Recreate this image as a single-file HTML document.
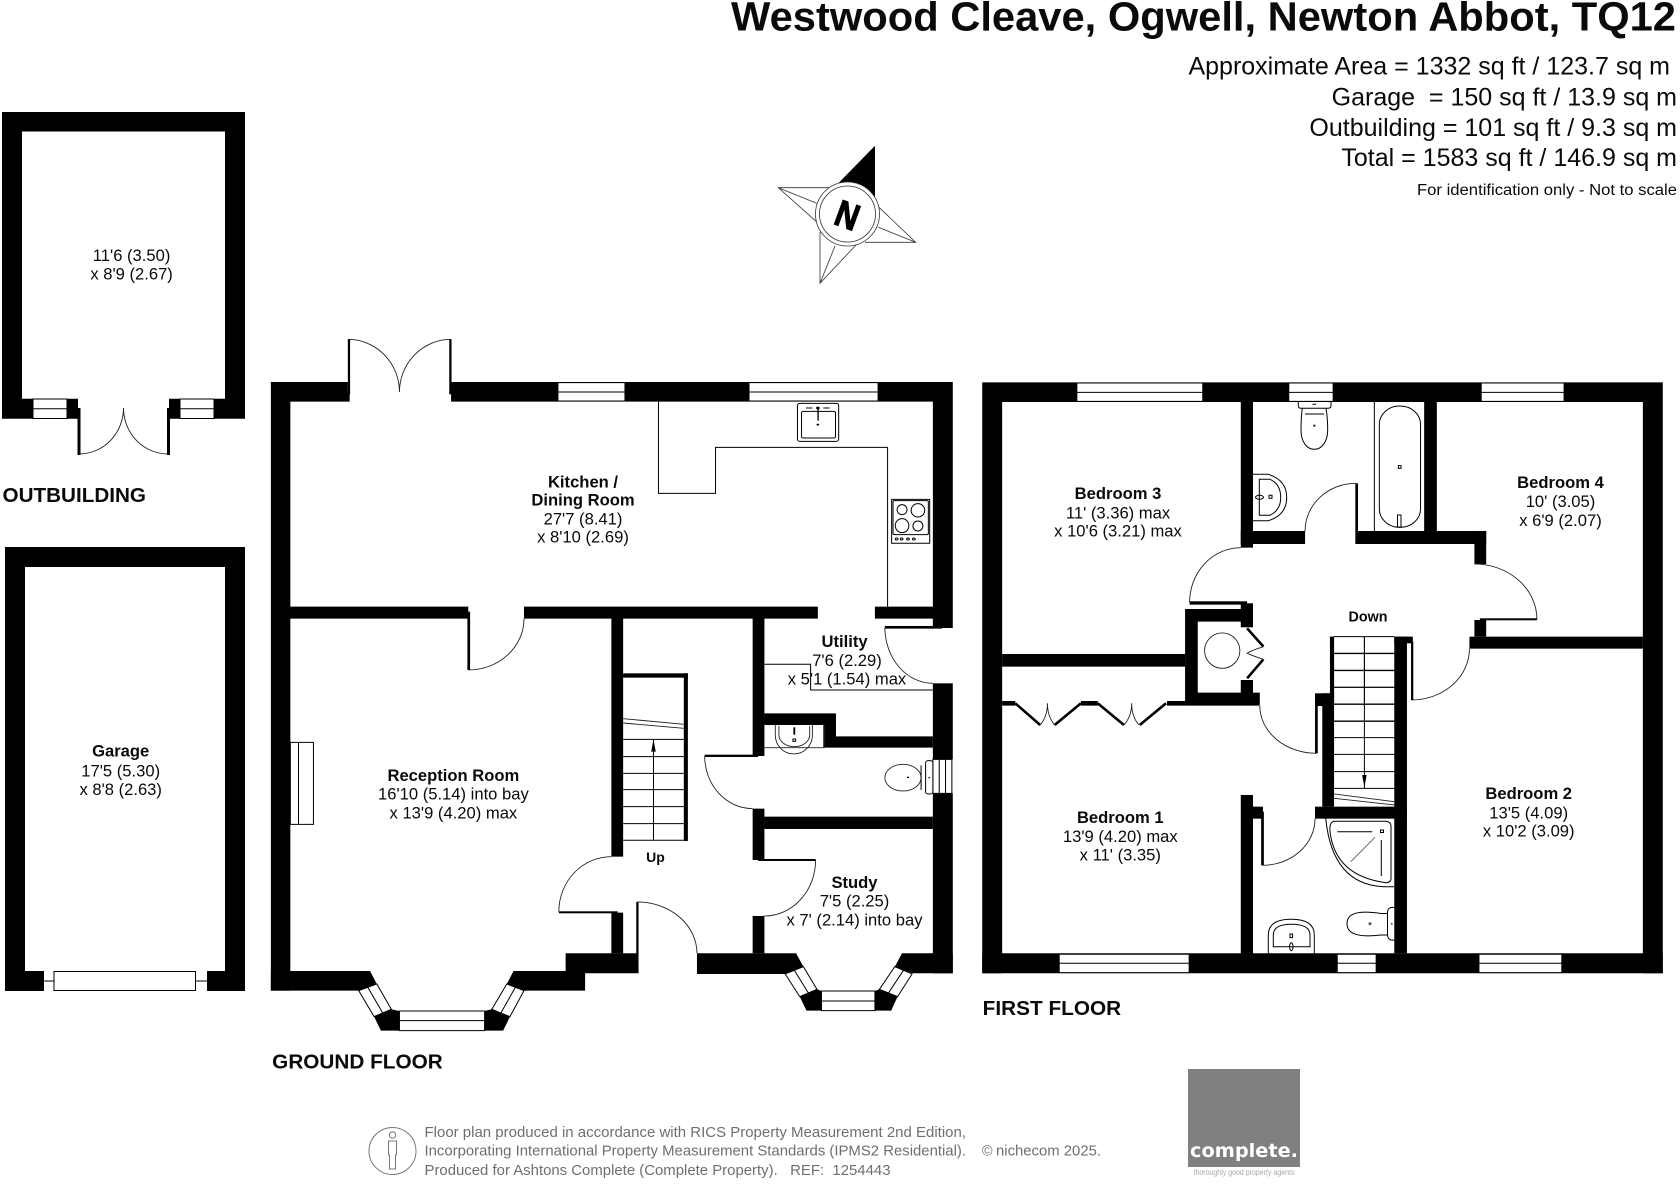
<!DOCTYPE html>
<html lang="en"><head><meta charset="utf-8"><title>Westwood Cleave floor plan</title>
<style>
html,body{margin:0;padding:0;background:#fff}
svg{display:block}
svg *{vector-effect:non-scaling-stroke}
text{font-family:"Liberation Sans",sans-serif;fill:#0a0a0a;vector-effect:none}
.r{font-size:16.6px;text-anchor:middle}
.b{font-size:16.6px;font-weight:bold;text-anchor:middle}
.h{font-size:25px;text-anchor:end}
.f{font-size:20.6px;font-weight:bold}
.g{font-size:14.3px;fill:#6f6f6f}
.k{fill:#000;stroke:none}
.l{fill:none;stroke:#000;stroke-width:1}
.t{fill:none;stroke:#222;stroke-width:.9}
.w{fill:#fff;stroke:#000;stroke-width:1}
.d{fill:none;stroke:#000;stroke-width:2.6}
</style></head><body>
<svg xmlns="http://www.w3.org/2000/svg" width="1680" height="1184" viewBox="0 0 1680 1184">
<rect width="1680" height="1184" fill="#fff"/>

<!-- Outbuilding -->
<path class="k" d="M2 112H245V418.7H180V398.7H225V131.5H22V398.7H78V418.7H2Z"/>
<path class="k" d="M169 398.7H182V418.7H169Z"/>
<rect class="w" x="33" y="399" width="34" height="19.5"/><line class="l" x1="33" y1="408.7" x2="67" y2="408.7"/>
<rect class="w" x="180" y="399" width="34" height="19.5"/><line class="l" x1="180" y1="408.7" x2="214" y2="408.7"/>
<rect class="k" x="77.5" y="408" width="3" height="47"/><rect class="k" x="167" y="408" width="3" height="47"/>
<path class="t" d="M79 454A44.500 46 0 0 0 123.500 408M168 454A44.500 46 0 0 1 123.500 408"/>

<!-- Garage -->
<path class="k" d="M5 547H245V991H207V971H225V567H25V971H44V991H5Z"/>
<rect class="w" x="54" y="971.500" width="141.500" height="19"/>
<path class="l" d="M44 981H54M196 981H207"/>

<!-- Ground floor, upper part -->
<g transform="translate(260,330) scale(.4528,.3333)">
<path class="k" d="M24 156H194V188H198V215H67V830H460V866H24ZM422 156H1530V894H1486V830H1358V866H1486V215H422Z"/>
<path class="k" d="M583 830H1232V866H583Z"/>
<rect class="k" x="194" y="28" width="5" height="165"/><rect class="k" x="418" y="28" width="5" height="165"/>
<path class="t" d="M194 28A114 158 0 0 1 308 186M422 28A114 158 0 0 0 308 186"/>
<rect class="w" x="658" y="158" width="148" height="55"/><line class="l" x1="658" y1="186" x2="806" y2="186"/>
<rect class="w" x="1080" y="158" width="285" height="55"/><line class="l" x1="1080" y1="186" x2="1365" y2="186"/>
<path class="l" d="M880 215V490H1006V352H1386V830"/>
<rect class="l" x="1187" y="220" width="91" height="114" rx="6" ry="6"/><rect class="l" x="1196" y="244" width="75" height="80" rx="4" ry="4"/>
<path class="k" d="M1231 236h3v36h-3z"/><circle class="k" cx="1232" cy="234" r="4"/><circle class="k" cx="1232" cy="284" r="3"/>
<path class="l" d="M1206 234h14M1244 234h14"/>
<rect class="l" x="1395" y="508" width="84" height="132"/><rect class="l" x="1398" y="512" width="78" height="102" rx="3"/>
<ellipse class="l" cx="1418" cy="539" rx="11" ry="15"/><ellipse class="l" cx="1453" cy="541" rx="15" ry="20"/>
<ellipse class="l" cx="1418" cy="587" rx="15" ry="21"/><ellipse class="l" cx="1453" cy="588" rx="11" ry="15"/>
<g class="l"><circle cx="1406" cy="627" r="3"/><circle cx="1417" cy="627" r="3"/><circle cx="1431" cy="627" r="3"/><circle cx="1444" cy="627" r="3"/></g>
<rect class="k" x="458" y="845" width="6" height="175"/>
<path class="t" d="M460 1020A123 154 0 0 0 583 866"/>
<rect class="k" x="1380" y="888" width="126" height="8"/>
<path class="t" d="M1380 893A106 168 0 0 0 1486 1060"/>
<path class="l" d="M1114 1003H1216V1080H1486"/>
</g>

<!-- Ground floor, lower part -->
<g transform="translate(260,620) scale(.4528,.3333)">
<rect class="k" x="24" y="-8" width="43" height="1120"/>
<rect class="k" x="776" y="-8" width="26" height="718"/><rect class="k" x="776" y="878" width="26" height="122"/>
<rect class="k" x="660" y="874" width="130" height="6"/>
<path class="t" d="M776 710A116 165 0 0 0 660 875"/>
<rect class="k" x="802" y="160" width="143" height="13"/><rect class="k" x="936" y="160" width="9" height="503"/>
<path class="l" d="M802 358H936M802 410H936M802 460H936M802 509H936M802 560H936M802 611H936M802 661H936M869 358V661"/>
<path class="k" d="M869 358L864 395H874Z"/>
<path class="t" d="M802 296L936 313M802 309L936 325"/>
<rect class="k" x="1088" y="-8" width="26" height="416"/><rect class="k" x="982" y="404" width="118" height="7"/>
<path class="t" d="M982 408A106 158 0 0 0 1088 566"/>
<rect class="k" x="1088" y="566" width="26" height="154"/><rect class="k" x="1100" y="717" width="127" height="6"/>
<path class="t" d="M1227 720A113 168 0 0 1 1114 888"/>
<rect class="k" x="1088" y="888" width="26" height="112"/>
<path class="k" d="M1114 280H1272V349H1486V383H1244V315H1114Z"/>
<rect class="k" x="1114" y="590" width="372" height="37"/>
<rect class="k" x="1486" y="190" width="44" height="228"/><rect class="k" x="1486" y="520" width="44" height="540"/>
<rect class="w" x="1486" y="418" width="42" height="102"/><path class="l" d="M1500 418V520M1514 418V520"/>
<path class="t" d="M1114 383H1246V315"/>
<path class="t" d="M1138 315V345A41 57 0 0 0 1220 345V315"/>
<path class="t" d="M1146 318V345A34 35 0 0 0 1214 345V318"/>
<rect class="k" x="1178" y="322" width="4" height="22"/><rect class="l" x="1177" y="357" width="6" height="7"/>
<ellipse class="t" cx="1420" cy="473" rx="40" ry="40"/>
<rect class="w" x="1470" y="422" width="16" height="100" rx="6"/>
<path class="l" d="M1460 436V510"/>
<circle class="k" cx="1431" cy="472" r="2.500"/><circle class="k" cx="1478" cy="473" r="2"/>
<rect class="w" x="67" y="367" width="51" height="246"/><line class="l" x1="85" y1="367" x2="85" y2="613"/>
<path class="k" d="M24 1053H243L258 1092L218 1112H24Z"/>
<path class="k" d="M560 1053H675V1000H836V1060H718V1112H583L545 1092Z"/>
<rect class="k" x="831" y="846" width="5" height="160"/>
<path class="t" d="M833 846A132 154 0 0 1 965 1000"/>
<path class="k" d="M965 1000H1184L1200 1040L1160 1062H965Z"/>
<path class="k" d="M1418 1000H1530V1060H1440L1402 1040Z"/>
<path class="w" d="M218 1112L258 1092L290 1168L252 1190Z"/><path class="l" d="M238 1102L271 1179"/>
<path class="k" d="M252 1190L290 1168L308 1173V1232H267Z"/>
<rect class="w" x="308" y="1173" width="188" height="59"/><line class="l" x1="308" y1="1202" x2="496" y2="1202"/>
<path class="k" d="M496 1173L512 1168L552 1190L537 1232H496Z"/>
<path class="w" d="M512 1168L552 1190L583 1112L545 1092Z"/><path class="l" d="M532 1179L564 1102"/>
<path class="w" d="M1160 1062L1200 1040L1230 1108L1192 1130Z"/><path class="l" d="M1180 1051L1211 1119"/>
<path class="k" d="M1192 1130L1230 1108L1240 1113V1172H1207Z"/>
<rect class="w" x="1240" y="1113" width="118" height="59"/><line class="l" x1="1240" y1="1143" x2="1358" y2="1143"/>
<path class="k" d="M1358 1113L1368 1108L1408 1130L1394 1172H1358Z"/>
<path class="w" d="M1368 1108L1408 1130L1440 1062L1402 1040Z"/><path class="l" d="M1388 1119L1421 1051"/>
</g>

<!-- First floor, upper part -->
<g transform="translate(970,370) scale(.4528,.3333)">
<path class="k" d="M27 37H1530V1810H1486V96H71V1810H27Z"/>
<rect class="w" x="236" y="39" width="278" height="55"/><line class="l" x1="236" y1="67" x2="514" y2="67"/>
<rect class="w" x="704" y="39" width="98" height="55"/><line class="l" x1="704" y1="67" x2="802" y2="67"/>
<rect class="w" x="1129" y="39" width="183" height="55"/><line class="l" x1="1129" y1="67" x2="1312" y2="67"/>
<rect class="k" x="598" y="96" width="27" height="437"/>
<rect class="k" x="598" y="483" width="142" height="39"/>
<rect class="k" x="855" y="483" width="285" height="39"/>
<rect class="k" x="851" y="340" width="6" height="182"/>
<path class="t" d="M852 340A112 143 0 0 0 740 483"/>
<rect class="k" x="1003" y="96" width="28" height="387"/>
<line class="l" x1="893" y1="96" x2="893" y2="483"/>
<rect class="l" x="904" y="108" width="91" height="364" rx="45" ry="55"/>
<rect class="l" x="946" y="287" width="6" height="8"/>
<rect class="k" x="598" y="700" width="27" height="72"/>
<path class="t" d="M598 533A113 164 0 0 0 485 697"/>
<rect class="k" x="485" y="694" width="127" height="10"/>
<path class="k" d="M475 717H625V755H503V968H598V930H625V968H640V1007H475Z"/>
<rect class="k" x="71" y="852" width="404" height="38"/>
<rect class="k" x="1114" y="483" width="26" height="99"/>
<path class="t" d="M1114 582A138 166 0 0 1 1252 748"/>
<rect class="k" x="1126" y="745" width="126" height="6"/>
<rect class="k" x="1114" y="750" width="26" height="50"/>
<rect class="k" x="1103" y="800" width="383" height="36"/>
<path class="t" d="M1103 836A128 154 0 0 1 975 990"/>
<rect class="k" x="974" y="815" width="5" height="175"/>
<rect class="k" x="937" y="800" width="41" height="20"/>
<rect class="k" x="937" y="800" width="28" height="950"/>
<path class="d" d="M612 775L648 830M648 868L612 925"/>
<path class="t" d="M648 830Q620 842 612 850Q625 858 648 868"/>
<ellipse class="t" cx="557" cy="842" rx="39" ry="53"/>
<path class="k" d="M71 993H100V1007H71ZM245 993H282V1007H245ZM435 993H475V1007H435Z"/>
<path class="d" d="M100 1000L155 1065M245 1000L187 1065M282 1000L340 1065M433 1000L375 1065"/>
<path class="t" d="M155 1065Q171 1040 171 1000Q171 1040 187 1065M340 1065Q357 1040 357 1000Q357 1040 373 1065"/>
<path class="k" d="M795 800H804V975H795Z"/>
<path class="l" d="M804 800H937M804 850H937M804 901H937M804 952H937M804 1002H937M804 1053H937"/>
<line class="l" x1="871" y1="800" x2="871" y2="1000"/>
</g>

<!-- First floor, lower part -->
<g transform="translate(970,630) scale(.4528,.3333)">
<path class="k" d="M27 970H1530V1030H27Z"/>
<rect class="w" x="197" y="973" width="287" height="55"/><line class="l" x1="197" y1="1000" x2="484" y2="1000"/>
<rect class="w" x="811" y="973" width="86" height="55"/><line class="l" x1="811" y1="1000" x2="897" y2="1000"/>
<rect class="w" x="1124" y="973" width="183" height="55"/><line class="l" x1="1124" y1="1000" x2="1307" y2="1000"/>
<path class="t" d="M640 227A125 143 0 0 0 765 370"/>
<rect class="k" x="762" y="195" width="6" height="175"/>
<rect class="k" x="762" y="190" width="42" height="38"/>
<rect class="k" x="778" y="190" width="26" height="340"/>
<rect class="k" x="795" y="20" width="9" height="200"/>
<path class="l" d="M804 71H937M804 122H937M804 172H937M804 223H937M804 274H937M804 323H937M804 373H937M804 425H937M804 475H937"/>
<line class="l" x1="871" y1="20" x2="871" y2="475"/>
<path class="k" d="M871 472L866 435H876Z"/>
<path class="t" d="M804 492L937 515M804 505L937 525"/>
<rect class="k" x="762" y="530" width="203" height="36"/>
<rect class="k" x="598" y="495" width="27" height="480"/>
<rect class="k" x="625" y="530" width="22" height="36"/>
<rect class="k" x="643" y="545" width="6" height="161"/>
<path class="t" d="M646 706A116 140 0 0 0 762 566"/>
</g>

<!-- First-floor bathroom fixtures (page coordinates) -->
<g class="l">
<path d="M1298.300 402V405.500Q1298.300 408.300 1301 408.300H1328Q1331 408.300 1331 405.500V402"/>
<path d="M1302.300 408.300Q1301 418 1301 430C1301 442 1307 449.300 1314.300 449.300C1321.500 449.300 1327.700 442 1327.700 430Q1327.700 418 1326 408.300"/>
<path d="M1305 414H1324"/>
<path d="M1252.700 474.300H1268.300Q1286.700 480 1286.700 497.500Q1286.700 515 1268.300 520.700H1252.700"/>
<path d="M1259.300 479.300H1270Q1280.700 484 1280.700 497.500Q1280.700 510 1270 515.300H1259.300Z"/>
<ellipse cx="1259.500" cy="497.300" rx="4" ry="2"/>
<rect x="1269" y="495.300" width="3" height="3"/>
<path d="M1397.500 515H1401V527H1397.500ZM1396 527H1402.500"/>
<path d="M1325.700 818.300Q1332.200 884.200 1383.300 886.700H1394"/>
<path d="M1335 821.300H1385Q1391 821.300 1391 826.700V878.300Q1391 882.700 1386 882.700Q1335.300 876 1330 831.700Q1329 821.300 1335 821.300Z"/>
<path d="M1337.300 831.700H1372.300M1381.300 840V876"/>
<rect x="1380.500" y="830" width="3" height="2.500"/>
<path d="M1387.500 913.500H1381Q1347 908 1347 923.700Q1347 939 1381 935H1387.500"/>
<path d="M1394 907.500Q1387.500 906.500 1387.500 913V934Q1387.500 941 1394 940"/>
<path d="M1268.300 953.300V935Q1268.300 919.300 1291.300 919.300Q1314.300 919.300 1314.300 935V953.300"/>
<path d="M1273.300 946.700V935Q1273.300 924.300 1291.300 924.300Q1310 924.300 1310 935V946.700Z"/>
<rect x="1290" y="934" width="2.600" height="3.600"/>
<ellipse cx="1291.300" cy="946.700" rx="1.700" ry="4"/>
</g>
<path d="M1375 837.300L1350.700 861.700" fill="none" stroke="#666" stroke-width="1"/>
<circle cx="1314.300" cy="425.700" r="1.200" fill="#333"/><path d="M1312.500 404.300h3.600" stroke="#000" stroke-width="1"/>
<circle cx="1370" cy="923.700" r="1.500" fill="#555"/><circle cx="1391.700" cy="923.700" r="1" fill="#555"/>

<!-- Compass -->
<path class="k" d="M875 145.700L838.300 183.300L875 199Z"/>
<g fill="none" stroke="#333" stroke-width=".8">
<path d="M833.300 187.700H778.300L818.300 223.300M778.300 187.700L816.700 203.300"/>
<path d="M878.300 206.700L915.700 242.300H865M915.700 242.300L878.300 227.300"/>
<path d="M820 231.700V283.300L856 245M820 283.300L835 246"/>
</g>
<circle cx="847.500" cy="214" r="32" fill="#fff" stroke="#333" stroke-width=".8"/>
<circle cx="847.500" cy="214" r="28" fill="#fff" stroke="#333" stroke-width=".8"/>
<text transform="translate(847.500,215) rotate(20) scale(.85,1)" x="0" y="13" font-size="37" font-weight="bold" text-anchor="middle" stroke="#000" stroke-width="1.2" style="fill:#000">N</text>

<!-- Header -->
<text x="731" y="30.700" font-size="41" font-weight="bold" textLength="945" lengthAdjust="spacingAndGlyphs">Westwood Cleave, Ogwell, Newton Abbot, TQ12</text>
<text class="h" x="1670" y="74.500">Approximate Area = 1332 sq ft / 123.7 sq m</text>
<text class="h" x="1677" y="105.500" xml:space="preserve">Garage  = 150 sq ft / 13.9 sq m</text>
<text class="h" x="1677" y="136">Outbuilding = 101 sq ft / 9.3 sq m</text>
<text class="h" x="1677" y="166">Total = 1583 sq ft / 146.9 sq m</text>
<text x="1417" y="195" font-size="15.500" textLength="260" lengthAdjust="spacingAndGlyphs">For identification only - Not to scale</text>

<!-- Room labels -->
<text class="r" x="131.600" y="261">11'6 (3.50)</text><text class="r" x="131.600" y="279.500">x 8'9 (2.67)</text>
<text class="f" x="2.500" y="502" textLength="143.500" lengthAdjust="spacingAndGlyphs">OUTBUILDING</text>
<text class="b" x="120.700" y="756.700">Garage</text><text class="r" x="120.700" y="776.300">17'5 (5.30)</text><text class="r" x="120.700" y="795">x 8'8 (2.63)</text>
<text class="b" x="583" y="487.300">Kitchen /</text><text class="b" x="583" y="505.300">Dining Room</text><text class="r" x="583" y="524.700">27'7 (8.41)</text><text class="r" x="583" y="542.700">x 8'10 (2.69)</text>
<text class="b" x="453.400" y="781">Reception Room</text><text class="r" x="453.400" y="799.300">16'10 (5.14) into bay</text><text class="r" x="453.400" y="818.300">x 13'9 (4.20) max</text>
<text class="b" x="844.600" y="647">Utility</text><text class="r" x="847" y="666">7'6 (2.29)</text><text class="r" x="847" y="684.300">x 5'1 (1.54) max</text>
<text class="b" x="854.500" y="888">Study</text><text class="r" x="854.500" y="906.700">7'5 (2.25)</text><text class="r" x="854.500" y="925.700">x 7' (2.14) into bay</text>
<text x="655.500" y="862" font-size="14" font-weight="bold" text-anchor="middle">Up</text>
<text class="f" x="272.200" y="1068.700" textLength="170.500" lengthAdjust="spacingAndGlyphs">GROUND FLOOR</text>
<text class="b" x="1118" y="499">Bedroom 3</text><text class="r" x="1118" y="518.300">11' (3.36) max</text><text class="r" x="1118" y="536.700">x 10'6 (3.21) max</text>
<text class="b" x="1560.500" y="488">Bedroom 4</text><text class="r" x="1560.500" y="507">10' (3.05)</text><text class="r" x="1560.500" y="526">x 6'9 (2.07)</text>
<text x="1368" y="621.300" font-size="14.300" font-weight="bold" text-anchor="middle">Down</text>
<text class="b" x="1120.300" y="823">Bedroom 1</text><text class="r" x="1120.300" y="842">13'9 (4.20) max</text><text class="r" x="1120.300" y="860.300">x 11' (3.35)</text>
<text class="b" x="1528.700" y="799">Bedroom 2</text><text class="r" x="1528.700" y="818.300">13'5 (4.09)</text><text class="r" x="1528.700" y="836.700">x 10'2 (3.09)</text>
<text class="f" x="982.700" y="1015" textLength="138.500" lengthAdjust="spacingAndGlyphs">FIRST FLOOR</text>

<!-- Footer -->
<circle cx="392.500" cy="1151" r="23.500" fill="none" stroke="#777" stroke-width="1"/>
<circle cx="392.500" cy="1135" r="3.200" fill="none" stroke="#777" stroke-width="1"/>
<path d="M388.500 1141H396.500V1155H395.500V1169H389.500V1155H388.500Z" fill="none" stroke="#777" stroke-width="1"/>
<text class="g" x="424.500" y="1137" textLength="541.500" lengthAdjust="spacingAndGlyphs">Floor plan produced in accordance with RICS Property Measurement 2nd Edition,</text>
<text class="g" x="424.500" y="1155.700" textLength="541.500" lengthAdjust="spacingAndGlyphs">Incorporating International Property Measurement Standards (IPMS2 Residential).</text>
<text class="g" x="982" y="1155.700">©</text>
<text class="g" x="996" y="1155.700" textLength="105" lengthAdjust="spacingAndGlyphs">nichecom 2025.</text>
<text class="g" x="424.500" y="1175" textLength="466" lengthAdjust="spacingAndGlyphs" xml:space="preserve">Produced for Ashtons Complete (Complete Property).   REF:  1254443</text>
<rect x="1188" y="1069" width="112" height="98" fill="#808080"/>
<text x="1244" y="1157" font-size="19" font-weight="bold" text-anchor="middle" textLength="108" lengthAdjust="spacingAndGlyphs" style="font-family:'DejaVu Sans',sans-serif;fill:#fff">complete.</text>
<text x="1244" y="1175" font-size="8" text-anchor="middle" textLength="101" lengthAdjust="spacingAndGlyphs" style="fill:#aaa">thoroughly good property agents</text>
</svg>
</body></html>
